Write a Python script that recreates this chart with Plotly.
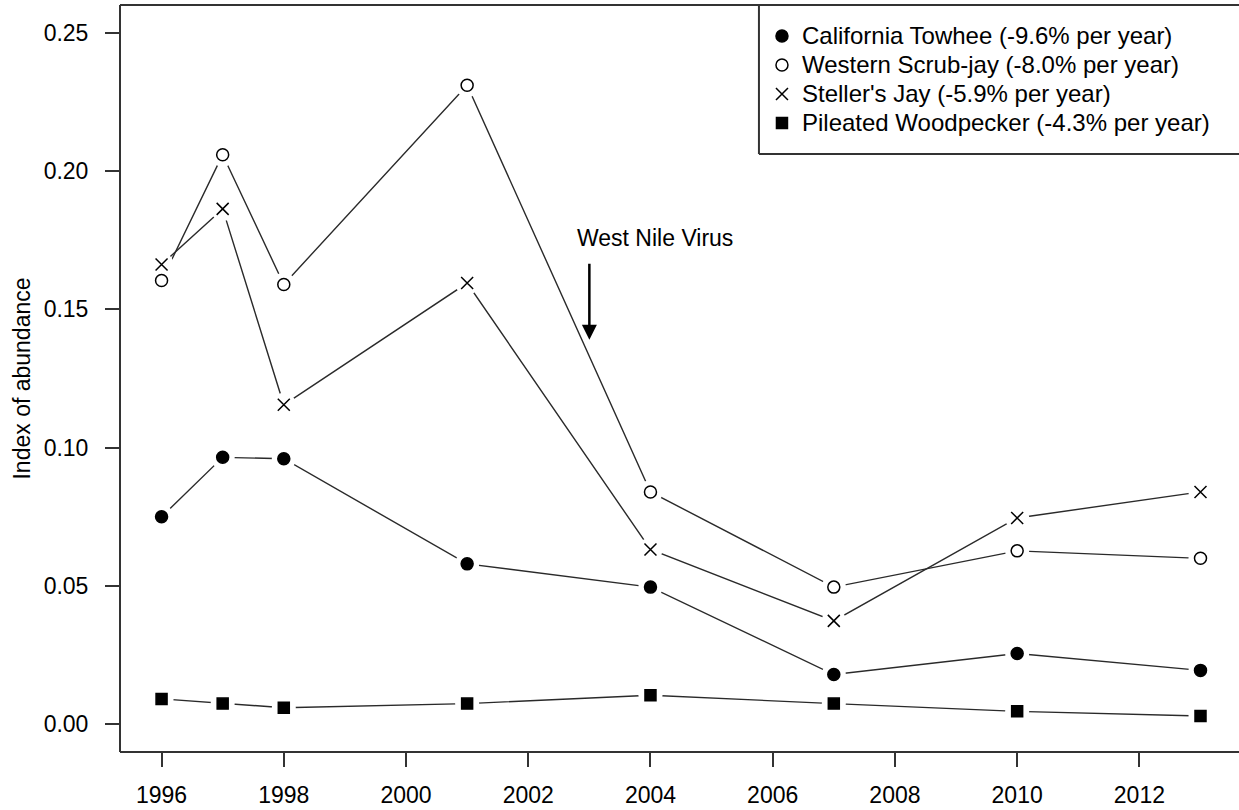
import plotly.graph_objects as go

years = [1996, 1997, 1998, 2001, 2004, 2007, 2010, 2013]
towhee = [0.075, 0.0965, 0.096, 0.058, 0.0496, 0.018, 0.0256, 0.0195]
scrubjay = [0.1604, 0.2059, 0.159, 0.231, 0.084, 0.0496, 0.0627, 0.060]
stellers = [0.1662, 0.1863, 0.1155, 0.1595, 0.0632, 0.0374, 0.0746, 0.084]
woodpecker = [0.0092, 0.0075, 0.006, 0.0075, 0.0105, 0.0075, 0.0047, 0.003]

names = ["California Towhee (-9.6% per year)",
         "Western Scrub-jay (-8.0% per year)",
         "Steller's Jay (-5.9% per year)",
         "Pileated Woodpecker (-4.3% per year)"]
series = [towhee, scrubjay, stellers, woodpecker]
symbols = ["circle", "circle-open", "x-thin-open", "square"]
msizes = [12, 12, 12, 11]

xticks = [1996, 1998, 2000, 2002, 2004, 2006, 2008, 2010, 2012]
yticks = [0.00, 0.05, 0.10, 0.15, 0.20, 0.25]

LINE = "#2a2a2a"
AXC = "#333333"
FONT = "Liberation Sans, Arial, sans-serif"

fig = go.Figure()
# connecting lines
for vals in series:
    fig.add_trace(go.Scatter(x=years, y=vals, mode="lines",
                             line=dict(color=LINE, width=1.4),
                             showlegend=False, hoverinfo="skip"))
# white masks to create the gaps around points (R type="b")
for vals in series:
    fig.add_trace(go.Scatter(x=years, y=vals, mode="markers",
                             marker=dict(symbol="circle", size=24, color="white",
                                         line=dict(width=0)),
                             showlegend=False, hoverinfo="skip"))
# points
for vals, nm, sym, ms in zip(series, names, symbols, msizes):
    fig.add_trace(go.Scatter(x=years, y=vals, mode="markers",
                             name='<span style="font-size:24px">' + nm + "</span>",
                             marker=dict(symbol=sym, size=ms, color="black",
                                         line=dict(color="black", width=1.5))))

# plot box (right side is cropped in the original)
for x0, y0, x1, y1 in [(0, 0, 0, 1), (0, 1, 1, 1), (0, 0, 1, 0)]:
    fig.add_shape(type="line", xref="paper", yref="paper", x0=x0, y0=y0, x1=x1, y1=y1,
                  line=dict(color=AXC, width=2))

# legend frame (left and bottom edges; top coincides with plot box)
LEG_L = 0.571
LEG_B = 0.8005
fig.add_shape(type="line", xref="paper", yref="paper", x0=LEG_L, y0=LEG_B, x1=LEG_L, y1=1,
              line=dict(color=AXC, width=2))
fig.add_shape(type="line", xref="paper", yref="paper", x0=LEG_L, y0=LEG_B, x1=1, y1=LEG_B,
              line=dict(color=AXC, width=2))

# West Nile Virus annotation
fig.add_annotation(x=2003, y=0.139, ax=2003, ay=0.167, xref="x", yref="y",
                   axref="x", ayref="y", text="", showarrow=True,
                   arrowhead=2, arrowsize=1.2, arrowwidth=2.5, arrowcolor="black")
fig.add_annotation(x=2004.07, y=0.1757, xref="x", yref="y", text="West Nile Virus",
                   showarrow=False, font=dict(family=FONT, size=23, color="black"))

fig.update_layout(
    width=1239, height=810,
    margin=dict(l=120, r=0, t=5, b=58),
    paper_bgcolor="white", plot_bgcolor="white",
    font=dict(family=FONT, size=23, color="black"),
    xaxis=dict(range=[1995.32, 2013.63], tickvals=xticks, ticks="outside", ticklen=14,
               tickwidth=1.5, tickcolor=AXC, showgrid=False, zeroline=False,
               showline=False, tickfont=dict(size=23), ticklabelstandoff=8),
    yaxis=dict(range=[-0.01, 0.26], tickvals=yticks, tickformat=".2f", ticks="outside",
               ticklen=14, tickwidth=1.5, tickcolor=AXC, showgrid=False,
               zeroline=False, showline=False, tickfont=dict(size=23),
               ticklabelstandoff=12,
               title=dict(text="Index of abundance", standoff=6,
                          font=dict(family=FONT, size=23))),
    legend=dict(x=0.5737, y=0.9846, xanchor="left", yanchor="top",
                bgcolor="rgba(0,0,0,0)", borderwidth=0, font=dict(size=20),
                tracegroupgap=0, itemsizing="trace"),
)

fig.write_html("out.html", config={"displayModeBar": False},
               post_script="document.body.style.margin='0px';document.body.style.overflow='hidden';")
